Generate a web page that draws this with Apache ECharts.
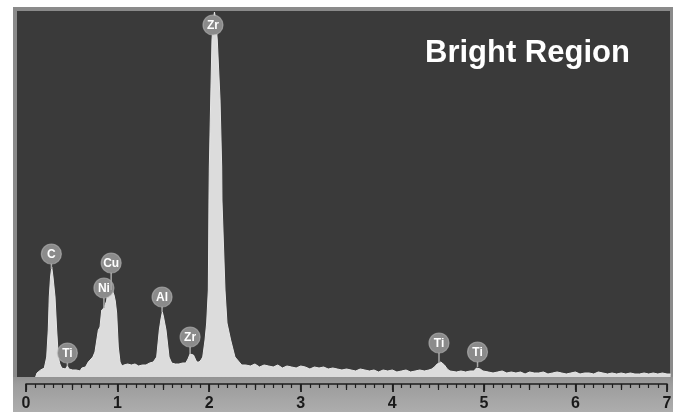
<!DOCTYPE html>
<html>
<head>
<meta charset="utf-8">
<script src="https://cdn.jsdelivr.net/npm/echarts@6/dist/echarts.min.js"></script>
<style>
  html, body { margin: 0; padding: 0; background: #ffffff; }
  #chart { width: 678px; height: 412px; }
</style>
</head>
<body>
<div id="chart"></div>
<script>
// EDS spectrum: [energy (keV), counts]
const lowEnergyBand = [
  [0.105,0],[0.12,4],[0.14,6],[0.16,7],[0.18,6],[0.20,9],[0.226,20],[0.243,47],[0.254,80],
  [0.268,100],[0.281,110],[0.295,100],[0.317,80],[0.335,47],[0.353,20],[0.37,13],[0.39,9],
  [0.41,7],[0.43,8],[0.452,11],[0.47,8],[0.49,6],[0.51,7],[0.53,5],[0.55,7],[0.57,8],[0.59,6],
  [0.61,9],[0.63,8],[0.65,10],[0.68,15],[0.70,14],[0.73,20],[0.753,25],[0.79,47],[0.808,50],
  [0.827,67],[0.851,69],[0.863,72],[0.88,76],[0.888,82],[0.895,77],[0.906,79],[0.92,85],
  [0.936,88],[0.95,86],[0.961,82],[0.975,76],[0.99,64],[1.00,45],[1.008,30],[1.027,15],[1.048,11],
  [1.07,12],[1.09,10],[1.11,13],[1.13,11],[1.15,12],[1.17,10],[1.19,13],[1.21,12],[1.23,11],
  [1.25,13],[1.27,12],[1.29,14],[1.31,12],[1.33,13],[1.35,14],[1.37,12],[1.39,15],
  [1.409,14],[1.427,20],[1.456,47],[1.474,58],[1.489,65],[1.502,60],[1.529,47],[1.562,20],[1.591,14],
  [1.61,12],[1.63,13],[1.65,11],[1.67,13],[1.69,12],[1.71,14],[1.73,13],
  [1.744,14],[1.769,18],[1.791,23],[1.81,25],[1.829,22],[1.864,15],[1.889,15],[1.911,17]
];

const zrBand = [
  [1.930,20],[1.955,37],[1.973,54],[1.991,87],[1.998,177],[2.002,210],[2.017,277],[2.031,337],
  [2.045,356],[2.058,365],[2.07,358],[2.089,337],[2.119,277],[2.137,210],[2.140,177],[2.173,87],
  [2.195,54],[2.235,37],[2.282,20],[2.356,12]
];

const highEnergyBand = [
  [2.40,12],[2.45,11],[2.50,13],[2.55,10],[2.60,12],[2.65,11],[2.70,10],[2.75,12],[2.80,9],
  [2.85,11],[2.90,10],[2.95,9],[3.00,11],[3.05,10],[3.10,8],[3.15,10],[3.20,9],[3.25,10],
  [3.30,8],[3.35,9],[3.40,8],[3.45,7],[3.50,8],[3.55,7],[3.60,6],[3.65,8],[3.70,7],[3.75,6],
  [3.80,7],[3.85,5],[3.90,7],[3.95,6],[4.00,7],[4.05,5],[4.10,6],[4.15,7],[4.20,5],[4.25,6],
  [4.30,7],[4.35,6],[4.40,7],[4.43,8],[4.46,10],[4.49,13],[4.51,14],[4.53,15],[4.55,14],
  [4.57,12],[4.60,8],[4.63,6],[4.65,6],[4.70,5],[4.75,6],[4.80,5],[4.85,6],[4.89,6],[4.92,9],
  [4.94,10],[4.96,8],[4.99,6],[5.05,5],[5.10,4],[5.15,5],[5.20,6],[5.25,4],[5.30,5],[5.35,4],
  [5.40,5],[5.45,3],[5.50,5],[5.55,4],[5.60,4],[5.65,5],[5.70,3],[5.75,4],[5.80,5],[5.85,4],
  [5.90,3],[5.95,4],[6.00,5],[6.05,3],[6.10,4],[6.15,4],[6.20,3],[6.25,5],[6.30,4],[6.35,3],
  [6.40,4],[6.45,3],[6.50,4],[6.55,3],[6.60,4],[6.65,3],[6.70,3],[6.75,4],[6.80,3],[6.85,4],
  [6.90,3],[6.95,4],[7.00,3],[7.04,3]
];

// Identified lines: element, energy (keV), counts at the line
const lineNames = ['C', 'Ti', 'Ni', 'Cu', 'Al', 'Zr', 'Zr', 'Ti', 'Ti'];
const lineEnergies = [0.277, 0.452, 0.851, 0.930, 1.486, 1.792, 2.042, 4.510, 4.931];
const lineCounts = [108, 11, 69, 87, 65, 23, 352, 14, 10];

// Energy axis ticks
const energyTicks = [0, 1, 2, 3, 4, 5, 6, 7];

const chartTitle = 'Bright Region';

// Marker layout: how far (px) each badge sits above its line
const badgeLift = [15, 13, 20, 27, 15, 17, 0, 20, 15];
const badgeRadius = 10;

const spectrum = lowEnergyBand.concat(zrBand, highEnergyBand);
const markers = lineNames.map((n, i) => [lineEnergies[i], lineCounts[i], n]);

// Plot window in pixels
const plotLeft = 17, plotTop = 11, plotRight = 670, plotBottom = 377;
const axisX0 = 26, axisX7 = 667;
const pxPerKeV = (axisX7 - axisX0) / (energyTicks[energyTicks.length - 1] - energyTicks[0]);
const eMin = (plotLeft - axisX0) / pxPerKeV;
const eMax = (plotRight - axisX0) / pxPerKeV;

const font = '"Liberation Sans", Arial, sans-serif';
const chart = echarts.init(document.getElementById('chart'));

chart.setOption({
  animation: false,
  backgroundColor: '#ffffff',
  title: {
    text: chartTitle,
    left: 420,
    top: 33,
    textStyle: { color: '#ffffff', fontSize: 31, fontWeight: 'bold', fontFamily: font }
  },
  graphic: {
    elements: [
      { type: 'rect', z: 0, shape: { x: 13, y: 7, width: 660, height: 372 }, style: { fill: '#8a8a8a' } },
      { type: 'rect', z: 0, shape: { x: plotLeft, y: plotTop, width: plotRight - plotLeft, height: plotBottom - plotTop }, style: { fill: '#3a3a3a' } },
      {
        type: 'rect', z: 0, shape: { x: 13, y: plotBottom, width: 660, height: 412 - plotBottom },
        style: {
          fill: new echarts.graphic.LinearGradient(0, 0, 0, 1, [
            { offset: 0, color: '#939393' },
            { offset: 0.22, color: '#9d9d9d' },
            { offset: 1, color: '#adadad' }
          ])
        }
      }
    ]
  },
  grid: [
    { left: plotLeft, top: plotTop, width: plotRight - plotLeft, height: plotBottom - plotTop },
    { left: axisX0, top: plotBottom, width: axisX7 - axisX0, height: 8 }
  ],
  xAxis: [
    { type: 'value', gridIndex: 0, min: eMin, max: eMax, show: false },
    {
      type: 'value', gridIndex: 1, min: energyTicks[0], max: energyTicks[energyTicks.length - 1], interval: 1,
      position: 'bottom',
      axisLine: { lineStyle: { color: '#1e1e1e', width: 1.6 } },
      axisTick: { length: 8, lineStyle: { color: '#1e1e1e', width: 1.8 } },
      minorTick: { show: true, splitNumber: 10, length: 4, lineStyle: { color: '#1e1e1e', width: 1.2 } },
      splitLine: { show: false },
      axisLabel: { color: '#1a1a1a', fontSize: 16, fontWeight: 'bold', fontFamily: font, margin: 12,
        formatter: v => energyTicks.indexOf(v) >= 0 ? String(v) : '' }
    },
    {
      type: 'value', gridIndex: 1, min: 0, max: 7, interval: 0.5, position: 'bottom',
      axisLine: { show: false },
      axisTick: { length: 6, lineStyle: { color: '#1e1e1e', width: 1.2 } },
      axisLabel: { show: false },
      splitLine: { show: false }
    }
  ],
  yAxis: [
    { type: 'value', gridIndex: 0, min: 0, max: plotBottom - plotTop, show: false },
    { type: 'value', gridIndex: 1, show: false }
  ],
  series: [
    {
      type: 'line',
      xAxisIndex: 0, yAxisIndex: 0,
      data: spectrum,
      showSymbol: false,
      smooth: false,
      lineStyle: { color: '#e6e6e6', width: 1 },
      areaStyle: { color: '#dcdcdc', opacity: 1 },
      z: 2
    },
    {
      type: 'custom',
      xAxisIndex: 0, yAxisIndex: 0,
      data: markers,
      z: 5,
      renderItem: function (params, api) {
        const i = params.dataIndex;
        const p = api.coord([api.value(0), api.value(1)]);
        const cx = p[0];
        const cy = p[1] - badgeLift[i];
        const children = [];
        if (p[1] > cy + badgeRadius) {
          children.push({
            type: 'line',
            shape: { x1: cx, y1: cy + badgeRadius, x2: cx, y2: p[1] },
            style: { stroke: '#a8a8a8', lineWidth: 1.5 }
          });
        }
        children.push({
          type: 'circle',
          shape: { cx: cx, cy: cy, r: badgeRadius },
          style: { fill: '#8b8b8b', stroke: 'rgba(190,190,190,0.6)', lineWidth: 1.2 }
        });
        children.push({
          type: 'text',
          x: cx, y: cy + 0.5,
          style: {
            text: lineNames[i], fill: '#ffffff',
            font: 'bold 12px ' + font,
            align: 'center', verticalAlign: 'middle'
          }
        });
        return { type: 'group', children: children };
      }
    }
  ]
});
</script>
</body>
</html>
